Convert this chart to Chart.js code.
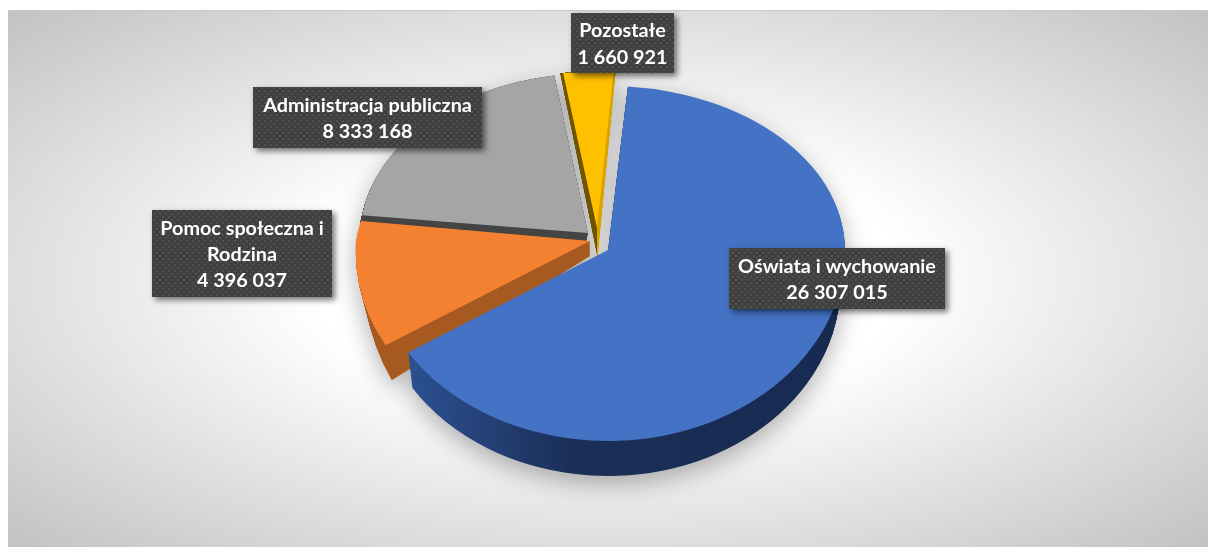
<!DOCTYPE html>
<html><head><meta charset="utf-8">
<style>html,body{margin:0;padding:0;background:#fff;overflow:hidden}canvas{display:block}</style>
<script src="https://cdn.jsdelivr.net/npm/chart.js@4"></script>
</head><body><canvas id="c" width="1208" height="547"></canvas>
<script>
const categories = ["Oświata i wychowanie", "Pomoc społeczna i Rodzina", "Administracja publiczna", "Pozostałe"];
const values = [26307015, 4396037, 8333168, 1660921];
const topColors = ["#4472C4", "#F48031", "#A5A5A5", "#FFC000"];

// Imitation of the 3-D view: how each slice of the library's pie is projected
const views = [
  {cx:608,cy:250,rx:237,ryU:164,ryL:191,shU:0,shL:0,sx:.98,A:0,B:35,D:0},
  {cx:590,cy:241,rx:234,ryU:180,ryL:194,shU:-.17,shL:-.067,sx:.97,A:.192,B:-31.3,D:0},
  {cx:588,cy:233,rx:228,ryU:160,ryL:160,shU:-.035,shL:0,sx:1,A:0,B:9,D:-2},
  {cx:597,cy:228,rx:197,ryU:157,ryL:157,shU:0,shL:0,sx:1.1,A:.186,B:-13.4,D:.5}
];
const boxes = [
  {l:729,t:248,r:945,b:309},
  {l:152,t:210,r:332,b:297},
  {l:253,t:87,r:482,b:148},
  {l:571,t:13,r:674,b:73}
];
const fmt = v => String(v).replace(/\B(?=(\d{3})+$)/g, " ");

function sideFill(g, arc, i){
  const R = arc.outerRadius;
  const gr = g.createLinearGradient(arc.x-R,0,arc.x+R,0);
  if(i===0){gr.addColorStop(0,"#2F5597");gr.addColorStop(.12,"#2A4C8A");gr.addColorStop(.42,"#1B2F58");gr.addColorStop(1,"#172A50");}
  if(i===1){gr.addColorStop(0,"#A65A20");gr.addColorStop(1,"#A65A20");}
  if(i===2){gr.addColorStop(0,"#444444");gr.addColorStop(1,"#444444");}
  if(i===3){gr.addColorStop(0,"#6E5300");gr.addColorStop(.5,"#6E5300");gr.addColorStop(.5,"#D9A300");gr.addColorStop(1,"#D9A300");}
  return gr;
}
function drawSlice(g, arc, p, fill, t, W, H){
  const R = arc.outerRadius, saved = arc.options;
  arc.options = {backgroundColor:fill,borderWidth:0,borderColor:"transparent",offset:0,spacing:0,
    borderAlign:"center",circular:true,borderRadius:0,borderJoinStyle:"round",borderDash:[],borderDashOffset:0,selfJoin:false};
  for(const up of [true,false]){
    const ry = up?p.ryU:p.ryL, sh = up?p.shU:p.shL;
    const sx = 1-t*(1-p.sx);
    g.save();
    g.transform(sx,0,0,1+t*p.A,p.cx*(1-sx)+t*p.D,t*p.B);
    g.beginPath();
    if(up) g.rect(-50,-50,W+100,p.cy+50.5); else g.rect(-50,p.cy,W+100,H);
    g.clip();
    const kx=p.rx/R, ky=ry/R;
    g.transform(kx,0,sh*ky,ky,p.cx-kx*arc.x-sh*ky*arc.y,p.cy-ky*arc.y);
    arc.draw(g);
    g.restore();
  }
  arc.options = saved;
}
const pie3d = {
  id:"pie3d",
  beforeDraw(chart){
    const g=chart.ctx, W=chart.width, H=chart.height;
    g.save();
    g.fillStyle="#fff";g.fillRect(0,0,W,H);
    g.beginPath();g.rect(8,10,1200,537);g.clip();
    g.translate(608,278.5);g.scale(600/268.5,1);
    const r=268.5*Math.SQRT2;
    const gr=g.createRadialGradient(0,0,0,0,0,r);
    gr.addColorStop(0,"#ffffff");gr.addColorStop(.35,"#ffffff");gr.addColorStop(1,"#c2c2c2");
    g.fillStyle=gr;g.fillRect(-400,-300,800,600);
    g.restore();
    g.fillStyle="#c9c9c9";g.fillRect(8,10,1200,1);
  },
  beforeDatasetsDraw(chart){
    const W=chart.width,H=chart.height;
    const off=document.createElement("canvas");off.width=W;off.height=H;
    const o=off.getContext("2d");
    const arcs=chart.getDatasetMeta(0).data;
    const steps=40;
    for(const i of [3,2,1,0]){
      const a=arcs[i],fill=sideFill(o,a,i);
      for(let s=steps;s>0;s--) drawSlice(o,a,views[i],fill,s/steps,W,H);
      drawSlice(o,a,views[i],topColors[i],0,W,H);
    }
    const g=chart.ctx;
    g.save();
    g.shadowColor="rgba(0,0,0,.3)";g.shadowBlur=24;g.shadowOffsetY=8;
    g.drawImage(off,0,0);
    g.restore();
    return false;
  },
  afterDraw(chart){
    const g=chart.ctx;
    const tile=document.createElement("canvas");tile.width=6;tile.height=6;
    const t=tile.getContext("2d");
    t.fillStyle="#404040";t.fillRect(0,0,6,6);
    t.fillStyle="#505050";t.fillRect(0,0,2,2);t.fillRect(3,3,2,2);
    const pat=g.createPattern(tile,"repeat");
    boxes.forEach((b,i)=>{
      g.save();
      g.shadowColor="rgba(0,0,0,.55)";g.shadowBlur=6;g.shadowOffsetX=3;g.shadowOffsetY=3;
      g.fillStyle="#404040";g.fillRect(b.l,b.t,b.r-b.l,b.b-b.t);
      g.restore();
      g.fillStyle=pat;g.fillRect(b.l,b.t,b.r-b.l,b.b-b.t);
      g.fillStyle="#fff";g.font='bold 19.8px Lato';g.textAlign="center";g.textBaseline="middle";
      const words=categories[i].split(" "),lines=[];let cur="";
      for(const w of words){
        const n=cur?cur+" "+w:w;
        if(g.measureText(n).width>b.r-b.l-8&&cur){lines.push(cur);cur=w;}else cur=n;
      }
      lines.push(cur);lines.push(fmt(values[i]));
      const lh=26.3,cy=(b.t+b.b)/2+1,cx=(b.l+b.r)/2;
      lines.forEach((s,k)=>g.fillText(s,cx,cy+(k-(lines.length-1)/2)*lh));
    });
  }
};
new Chart(document.getElementById("c"),{
  type:"pie",
  data:{labels:categories,datasets:[{data:values,backgroundColor:topColors,borderWidth:0,radius:200}]},
  options:{responsive:false,animation:false,rotation:4.8,events:[],
    plugins:{legend:{display:false},tooltip:{enabled:false},title:{display:false}}},
  plugins:[pie3d]
});
</script></body></html>
